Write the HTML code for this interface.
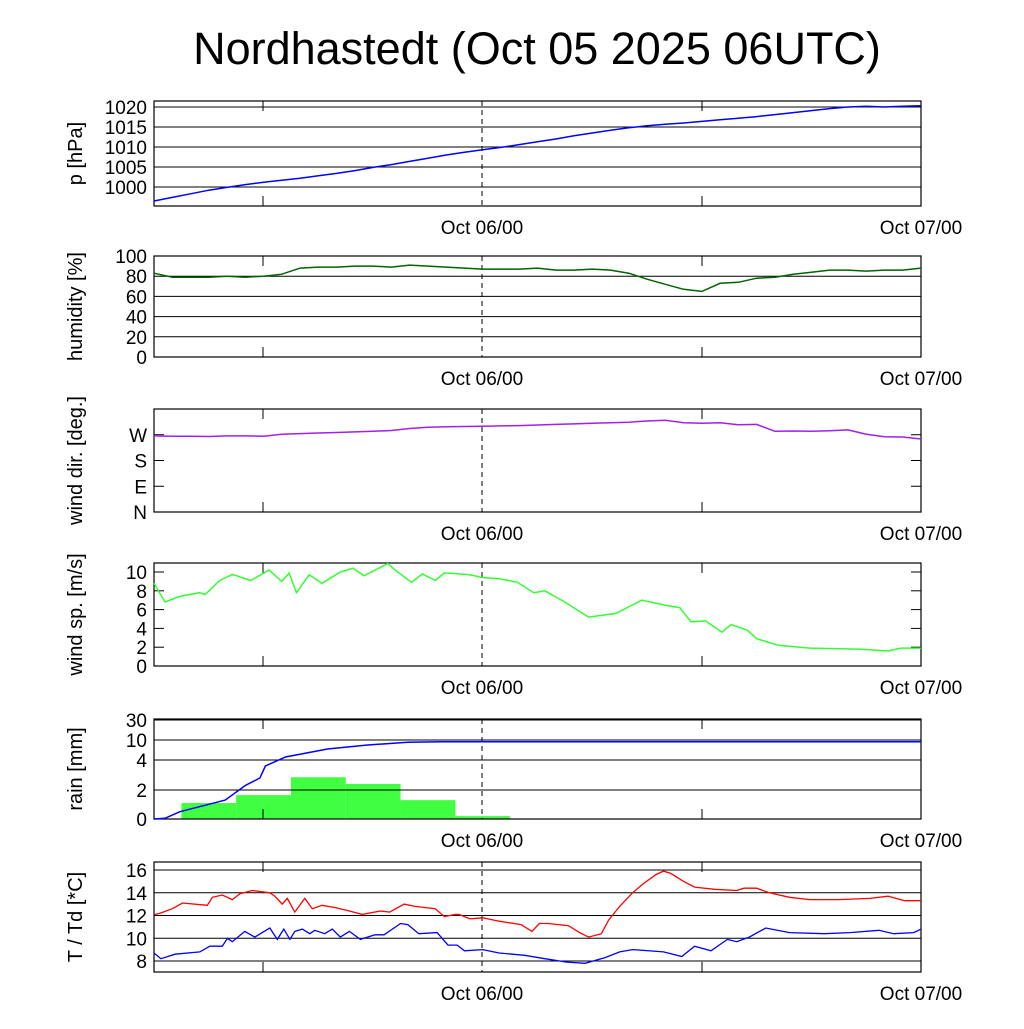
<!DOCTYPE html>
<html><head><meta charset="utf-8"><style>
body{margin:0;background:#fff}
svg text{font-family:"Liberation Sans",sans-serif}
</style></head><body>
<svg id="c" width="1024" height="1024" xmlns="http://www.w3.org/2000/svg">
<text x="537" y="64" font-size="45" text-anchor="middle">Nordhastedt (Oct 05 2025 06UTC)</text>
</svg>
<script>
const hours = [0,1,2,3,4,5,6,7,8,9,10,11,12,13,14,15,16,17,18,19,20,21,22,23,24,25,26,27,28,29,30,31,32,33,34,35,36,37,38,39,40,41,42];
const pressure = [996.5,997.4,998.3,999.2,999.9,1000.6,1001.2,1001.7,1002.2,1002.8,1003.4,1004.1,1004.9,1005.6,1006.4,1007.2,1008.0,1008.7,1009.3,1009.9,1010.6,1011.3,1012.0,1012.8,1013.5,1014.2,1014.8,1015.3,1015.7,1016.0,1016.4,1016.8,1017.2,1017.6,1018.1,1018.6,1019.1,1019.6,1020.0,1020.2,1020.0,1020.2,1020.3];
const humidity = [83,79,79,79,80,79,80,82,88,89,89,90,90,89,91,90,89,88,87,87,87,88,86,86,87,86,83,77,72,67,65,73,74,78,79,82,84,86,86,85,86,86,88];
const windDir = [266,265,265,264,266,266,265,272,274,276,278,280,282,285,292,296,298,299,300,301,302,304,306,308,310,312,314,318,321,312,310,312,305,306,282,283,282,284,287,272,263,262,255];
const wsTimes = [0,0.6,1.4,2.5,2.8,3.6,4.3,5.3,6.3,7.0,7.4,7.8,8.5,9.2,10.2,10.9,11.5,12.8,13.2,14.1,14.7,15.4,15.9,17.3,18,18.9,19.9,20.8,21.4,22.5,23.8,25.3,26.7,27.9,28.8,29.4,30.2,31.1,31.6,32.5,33,34.2,35.9,38.6,40.2,40.9,42];
const windSpeed = [8.8,6.8,7.4,7.8,7.6,9.1,9.75,9.1,10.2,9.0,9.9,7.8,9.7,8.8,10.0,10.4,9.6,10.9,10.2,8.9,9.8,9.1,9.9,9.7,9.4,9.3,8.9,7.8,8.0,6.8,5.2,5.6,7.0,6.5,6.2,4.7,4.8,3.6,4.4,3.8,2.9,2.2,1.9,1.8,1.6,1.9,1.9];
const rainBarStart = [1.5,4.5,7.5,10.5,13.5,16.5];
const rainBars = [1.1,1.65,2.85,2.4,1.3,0.2];
const rainCumTimes = [0,0.6,1.4,3.9,5,5.8,6.1,7.2,9.5,11.7,13.9,15.8,42];
const rainCum = [0,0.05,0.5,1.3,2.3,2.8,3.6,4.9,7.3,8.5,9.3,9.5,9.5];
const tTimes = [0,0.33,1.01,1.56,2.92,3.2,3.74,4.29,4.7,5.38,6.34,6.62,7.02,7.3,7.71,8.26,8.67,9.21,9.9,10.7,11.4,12.4,12.9,13.7,14.3,15.4,15.9,16.5,16.7,17.3,18,18.9,20.1,20.7,21.1,21.6,22.7,23.3,23.8,24.5,24.9,25.5,26.2,26.8,27.5,27.9,28.3,29,29.6,30.7,31.9,32.3,33,33.7,34.8,35.9,37.5,39.2,40.2,41.1,42];
const temperature = [12.06,12.2,12.6,13.1,12.9,13.6,13.8,13.4,13.9,14.2,14.0,13.7,13.0,13.5,12.3,13.5,12.6,12.9,12.7,12.4,12.1,12.4,12.3,13.0,12.8,12.6,11.9,12.1,12.1,11.7,11.8,11.5,11.2,10.6,11.3,11.3,11.1,10.5,10.1,10.4,11.6,12.8,14.0,14.8,15.6,15.9,15.7,15.0,14.5,14.3,14.2,14.4,14.4,14.0,13.6,13.4,13.4,13.5,13.7,13.3,13.3];
const tdTimes = [0,0.38,1.15,2.51,3.06,3.74,4.02,4.29,4.97,5.52,6.34,6.75,7.11,7.44,7.71,8.12,8.53,8.8,9.35,9.76,10.2,10.7,11.3,12.1,12.6,13.5,13.9,14.5,15.5,16.1,16.6,17.0,18.0,18.9,20.3,21.4,22.6,23.6,24.7,25.5,26.2,27.9,28.9,29.6,30.5,31.4,31.9,32.6,33.5,34.8,36.7,38.1,39.7,40.5,41.6,42];
const dewpoint = [8.7,8.2,8.6,8.8,9.3,9.3,10.0,9.7,10.6,10.1,10.9,9.9,10.8,9.9,10.6,10.8,10.4,10.7,10.4,10.8,10.1,10.6,9.9,10.3,10.3,11.3,11.2,10.4,10.5,9.4,9.4,8.9,9.0,8.7,8.5,8.2,7.9,7.8,8.3,8.8,9.0,8.8,8.4,9.3,8.9,9.9,9.7,10.1,10.9,10.5,10.4,10.5,10.7,10.4,10.5,10.8];

const svg=document.getElementById('c');
const NS='http://www.w3.org/2000/svg';
const X0=154,X1=921;
function xs(h){return X0+h*(X1-X0)/42;}
function mk(tag,attrs,parent){const e=document.createElementNS(NS,tag);for(const k in attrs)e.setAttribute(k,attrs[k]);(parent||svg).appendChild(e);return e;}
function lin(v0,v1,y0,y1){return v=>y0+(v-v0)*(y1-y0)/(v1-v0);}
function line(t,v,ys,color,name,w){
  const d=t.map((h,i)=>(i?'L':'M')+xs(h).toFixed(1)+','+ys(v[i]).toFixed(1)).join('');
  const p=mk('path',{d:d,fill:'none',stroke:color,'stroke-width':w||1.5});
  
  
}
function panel(name,top,bot,ticks,tickLabels,ys,grid,ylabel){
  const g=mk('g',{});
  
  
  ticks.forEach((v,i)=>{
    const y=ys(v);
    if(grid) mk('line',{x1:X0,x2:X1,y1:y,y2:y,stroke:'#000','stroke-width':1},g);
    else{mk('line',{x1:X0,x2:X0+10,y1:y,y2:y,stroke:'#000'},g);mk('line',{x1:X1-10,x2:X1,y1:y,y2:y,stroke:'#000'},g);}
    const t=mk('text',{x:147,y:y+7,'font-size':19,'text-anchor':'end'},g);
    t.textContent=tickLabels[i];
    
    
  });
  [263,702].forEach(x=>{mk('line',{x1:x,x2:x,y1:bot,y2:bot-10,stroke:'#000'},g);mk('line',{x1:x,x2:x,y1:top,y2:top+10,stroke:'#000'},g);});
  mk('line',{x1:482,x2:482,y1:top,y2:bot,stroke:'#000','stroke-dasharray':'5,4'},g);
  mk('rect',{x:X0,y:top,width:X1-X0,height:bot-top,fill:'none',stroke:'#000','stroke-width':1.2},g);
  [[482,'Oct 06/00'],[921,'Oct 07/00']].forEach(([x,s])=>{
    const t=mk('text',{x:x,y:bot+28,'font-size':19,'text-anchor':'middle'},g);t.textContent=s;
    
    
  });
  const cy=(top+bot)/2;
  const yl=mk('text',{x:0,y:0,'font-size':20,'text-anchor':'middle',transform:`translate(82,${cy}) rotate(-90)`},g);
  yl.textContent=ylabel;
  
  
}
const yp=lin(1000,1020,187,107);
panel('pressure',101,206,[1000,1005,1010,1015,1020],['1000','1005','1010','1015','1020'],yp,true,'p [hPa]');
line(hours,pressure,yp,'#0000ff','pressure-line');
const yh=lin(0,100,357,256);
panel('humidity',256,357,[0,20,40,60,80,100],['0','20','40','60','80','100'],yh,true,'humidity [%]');
line(hours,humidity,yh,'#006400','humidity-line');
const yd=lin(0,360,512,409);
panel('wind-dir',409,512,[0,90,180,270],['N','E','S','W'],yd,false,'wind dir. [deg.]');
line(hours,windDir,yd,'#a020f0','wind-dir-line');
const yw=lin(0,10,666,572);
panel('wind-speed',563,666,[0,2,4,6,8,10],['0','2','4','6','8','10'],yw,false,'wind sp. [m/s]');
line(wsTimes,windSpeed,yw,'#33ff33','wind-speed-line');
const rk=[0,2,4,10,30],ry=[819,790,760,740,720];
function yr(v){for(let i=1;i<rk.length;i++){if(v<=rk[i]||i==rk.length-1)return ry[i-1]+(v-rk[i-1])*(ry[i]-ry[i-1])/(rk[i]-rk[i-1]);}}
rainBars.forEach((v,i)=>{
  const b=mk('rect',{x:xs(rainBarStart[i]),y:yr(v),width:xs(rainBarStart[i]+3)-xs(rainBarStart[i]),height:819-yr(v),fill:'#40ff40'});
  
  
});
panel('rain',719,819,[0,2,4,10,30],['0','2','4','10','30'],yr,true,'rain [mm]');
line(rainCumTimes,rainCum,yr,'#0000ff','rain-cumulative-line');
const yt=lin(8,16,961,870);
panel('temperature',862,972,[8,10,12,14,16],['8','10','12','14','16'],yt,true,'T / Td [*C]');
line(tTimes,temperature,yt,'#ff0000','temperature-line',1.3);
line(tdTimes,dewpoint,yt,'#0000ff','dewpoint-line',1.3);
</script>
</body></html>
